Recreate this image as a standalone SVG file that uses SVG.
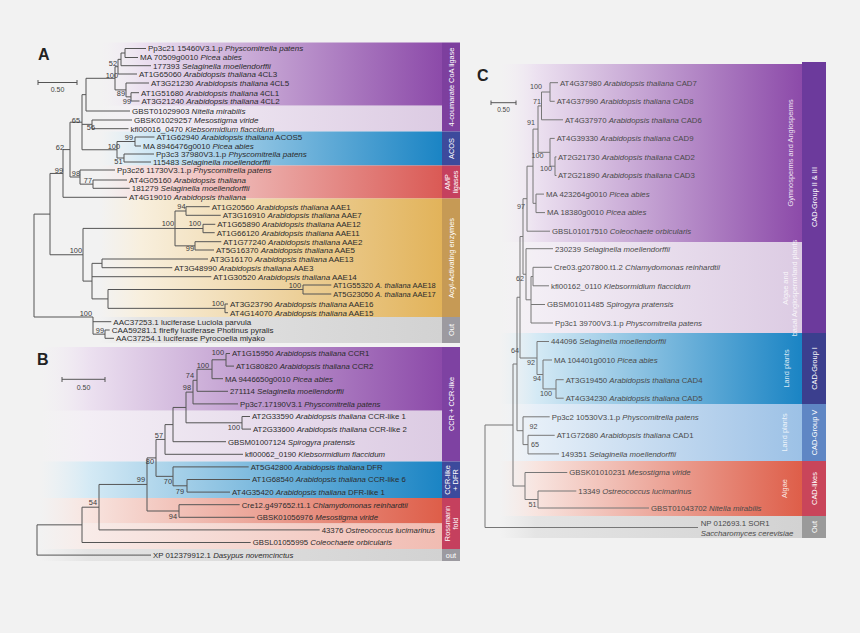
<svg xmlns="http://www.w3.org/2000/svg" width="860" height="633" viewBox="0 0 860 633">
<style>
.t{font-family:"Liberation Sans",Arial,sans-serif;font-size:7.8px;fill:#2b2b2b}
.ta{font-size:8px}
.c{font-family:"Liberation Sans",Arial,sans-serif;font-size:7.8px;fill:#4a4a4a}
.i{font-style:italic}
.bs{font-family:"Liberation Sans",Arial,sans-serif;font-size:7.4px;fill:#3a3a3a;text-anchor:end}
.bc{font-family:"Liberation Sans",Arial,sans-serif;font-size:7.2px;fill:#4a4a4a;text-anchor:end}
.bcs{font-family:"Liberation Sans",Arial,sans-serif;font-size:7.2px;fill:#4a4a4a}
.lb{font-family:"Liberation Sans",Arial,sans-serif;font-size:7.4px;fill:#fff;text-anchor:middle;dominant-baseline:central}
.lw{font-family:"Liberation Sans",Arial,sans-serif;font-size:7.4px;fill:#fff;fill-opacity:0.85;text-anchor:middle;dominant-baseline:central}
.pl{font-family:"Liberation Sans",Arial,sans-serif;font-size:16px;font-weight:bold;fill:#222}
.sc{font-family:"Liberation Sans",Arial,sans-serif;font-size:7px;fill:#444;text-anchor:middle}
.tr{fill:none;stroke:#555;stroke-width:1}
.trc{fill:none;stroke:#777;stroke-width:1}
</style>
<defs>
<linearGradient id="gP" x1="0" x2="1" y1="0" y2="0"><stop offset="0" stop-color="#f3edf5" stop-opacity="0"/><stop offset="0.12" stop-color="#ece1f0"/><stop offset="1" stop-color="#8c4aa9"/></linearGradient>
<linearGradient id="gPl" x1="0" x2="1" y1="0" y2="0"><stop offset="0" stop-color="#f5f1f6" stop-opacity="0"/><stop offset="0.12" stop-color="#f3eef5"/><stop offset="1" stop-color="#dccbe3"/></linearGradient>
<linearGradient id="gB" x1="0" x2="1" y1="0" y2="0"><stop offset="0" stop-color="#e2eff6" stop-opacity="0"/><stop offset="0.12" stop-color="#d5eaf5"/><stop offset="1" stop-color="#1a84c4"/></linearGradient>
<linearGradient id="gBl" x1="0" x2="1" y1="0" y2="0"><stop offset="0" stop-color="#eef4f9" stop-opacity="0"/><stop offset="0.12" stop-color="#e6eff8"/><stop offset="1" stop-color="#9cc1e6"/></linearGradient>
<linearGradient id="gR" x1="0" x2="1" y1="0" y2="0"><stop offset="0" stop-color="#f7e6e6" stop-opacity="0"/><stop offset="0.12" stop-color="#f6e0df"/><stop offset="1" stop-color="#da5a55"/></linearGradient>
<linearGradient id="gRo" x1="0" x2="1" y1="0" y2="0"><stop offset="0" stop-color="#f8e8e4" stop-opacity="0"/><stop offset="0.12" stop-color="#f8e4df"/><stop offset="1" stop-color="#de5e49"/></linearGradient>
<linearGradient id="gRl" x1="0" x2="1" y1="0" y2="0"><stop offset="0" stop-color="#f8ece9" stop-opacity="0"/><stop offset="0.12" stop-color="#f8ebe8"/><stop offset="1" stop-color="#f1bcb2"/></linearGradient>
<linearGradient id="gO" x1="0" x2="1" y1="0" y2="0"><stop offset="0" stop-color="#f8f0e0" stop-opacity="0"/><stop offset="0.12" stop-color="#f8efdd"/><stop offset="1" stop-color="#e2b35a"/></linearGradient>
<linearGradient id="gG" x1="0" x2="1" y1="0" y2="0"><stop offset="0" stop-color="#e6e6e6" stop-opacity="0"/><stop offset="0.12" stop-color="#e4e4e4"/><stop offset="1" stop-color="#d2d2d2"/></linearGradient>
</defs>
<rect width="860" height="633" fill="#f2f2f2"/>

<g id="bands">
<rect x="100" y="42.5" width="342" height="63.2" fill="url(#gP)"/>
<rect x="100" y="105.7" width="342" height="25.8" fill="url(#gPl)"/>
<rect x="100" y="131.5" width="342" height="34" fill="url(#gB)"/>
<rect x="100" y="165.5" width="342" height="33" fill="url(#gR)"/>
<rect x="100" y="198.5" width="342" height="118.5" fill="url(#gO)"/>
<rect x="100" y="317" width="342" height="26" fill="url(#gG)"/>
<rect x="40" y="347" width="402" height="63.7" fill="url(#gP)"/>
<rect x="40" y="410.7" width="402" height="50.8" fill="url(#gPl)"/>
<rect x="40" y="461.5" width="402" height="36.5" fill="url(#gB)"/>
<rect x="40" y="498" width="402" height="25.5" fill="url(#gRo)"/>
<rect x="40" y="523.5" width="402" height="25.5" fill="url(#gRl)"/>
<rect x="40" y="549" width="402" height="12" fill="url(#gG)"/>
<rect x="500" y="64" width="302" height="178" fill="url(#gP)"/>
<rect x="500" y="242" width="302" height="91" fill="url(#gPl)"/>
<rect x="500" y="333" width="302" height="71" fill="url(#gB)"/>
<rect x="500" y="404" width="302" height="57" fill="url(#gBl)"/>
<rect x="500" y="461" width="302" height="55" fill="url(#gRo)"/>
<rect x="500" y="516" width="302" height="22" fill="url(#gG)"/>
</g>

<g id="group-labels">
<g id="lab-4cl"><rect x="442" y="42.5" width="18" height="89" fill="#7d3f9e"/><text class="lb" transform="translate(451,87) rotate(-90)">4-coumarate CoA ligase</text></g>
<g id="lab-acos"><rect x="442" y="131.5" width="18" height="34" fill="#3d4a9c"/><text class="lb" transform="translate(451,148.5) rotate(-90)">ACOS</text></g>
<g id="lab-amp"><rect x="442" y="165.5" width="18" height="33" fill="#c5405e"/><text class="lb" transform="translate(447.5,182) rotate(-90)">AMP</text><text class="lb" transform="translate(455,182) rotate(-90)">ligases</text></g>
<g id="lab-aae"><rect x="442" y="198.5" width="18" height="118.5" fill="#c69a55"/><text class="lb" transform="translate(451,258) rotate(-90)">Acyl-Activating enzymes</text></g>
<g id="lab-outA"><rect x="442" y="317" width="18" height="26" fill="#9c9aa0"/><text class="lb" transform="translate(451,330) rotate(-90)">Out</text></g>
<g id="lab-ccr"><rect x="442" y="347" width="18" height="114.5" fill="#7e42a2"/><text class="lb" transform="translate(451,404) rotate(-90)">CCR + CCR-like</text></g>
<g id="lab-dfr"><rect x="442" y="461.5" width="18" height="36.5" fill="#3d4a9c"/><text class="lb" transform="translate(447.5,480) rotate(-90)">CCR-like</text><text class="lb" transform="translate(455,480) rotate(-90)">+ DFR</text></g>
<g id="lab-ross"><rect x="442" y="498" width="18" height="51" fill="#c5405e"/><text class="lb" transform="translate(447.5,523.5) rotate(-90)">Rossmann</text><text class="lb" transform="translate(455,523.5) rotate(-90)">fold</text></g>
<g id="lab-outB"><rect x="442" y="549" width="18" height="12" fill="#9c9aa0"/><text class="lb" x="451" y="555.3">out</text></g>
<g id="lab-c23"><rect x="802" y="62" width="24" height="271" fill="#6c3a9c"/><text class="lb" transform="translate(814,197) rotate(-90)">CAD-Group II &amp; III</text></g>
<g id="lab-c1"><rect x="802" y="333" width="24" height="71" fill="#3b3f8e"/><text class="lb" transform="translate(814,368.5) rotate(-90)">CAD-Group I</text></g>
<g id="lab-c5"><rect x="802" y="404" width="24" height="57" fill="#5f86c4"/><text class="lb" transform="translate(814,432.5) rotate(-90)">CAD-Group V</text></g>
<g id="lab-clk"><rect x="802" y="461" width="24" height="55" fill="#c9455a"/><text class="lb" transform="translate(814,488.5) rotate(-90)">CAD-likes</text></g>
<g id="lab-outC"><rect x="802" y="516" width="24" height="22" fill="#9a9a9a"/><text class="lb" transform="translate(814,527) rotate(-90)">Out</text></g>
<g id="lab-ga"><text class="lw" transform="translate(790,153) rotate(-90)">Gymnosperms and Angiosperms</text></g>
<g id="lab-ab"><text class="lw" transform="translate(785,288) rotate(-90)">Algae and</text><text class="lw" transform="translate(794,288) rotate(-90)">basal Angiosperm/land plants</text></g>
<g id="lab-lp1"><text class="lw" transform="translate(786,368.5) rotate(-90)">Land plants</text></g>
<g id="lab-lp2"><text class="lw" transform="translate(784,432.5) rotate(-90)">Land plants</text></g>
<g id="lab-al"><text class="lw" transform="translate(784,488.5) rotate(-90)">Algae</text></g>
</g>

<g id="panel-letters">
<text class="pl" x="38" y="60">A</text>
<text class="pl" x="37" y="365">B</text>
<text class="pl" x="477" y="81">C</text>
</g>

<g id="scale-bars" fill="none" stroke="#555" stroke-width="1">
<path d="M38 82.5H77M38 80V85M77 80V85"/>
<path d="M62 379.3H105M62 377V382M105 377V382"/>
<path d="M491 102.7H516M491 100.5V105M516 100.5V105"/>
</g>
<g id="scale-text">
<text class="sc" x="57.5" y="92">0.50</text>
<text class="sc" x="83.5" y="390">0.50</text>
<text class="sc" x="503.5" y="112" style="font-size:6.5px">0.50</text>
</g>

<g id="connectors">
<path class="tr" d="M125 48.5V57.5M125 48.5H146M125 57.5H138
M121 53V65.7M121 53H125M121 65.7H151
M118 59.35V74M118 59.35H121M118 74H137
M131 92.7V101M131 92.7H139M131 101H139.5
M126 83V96.85M126 83H149M126 96.85H131
M115 66.7V89.9M115 66.7H118M115 89.9H126
M86 78.3V111M86 78.3H115M86 111H130
M92 120V128.7M92 120H132M92 128.7H128.5
M135 137V146M135 137H154.5M135 146H141
M124 154V162M124 154H154M124 162H151
M117 141.5V158M117 141.5H135M117 158H124
M82 94.65V149.75M82 94.65H86M82 124.35H92M82 149.75H117
M93 180V188.3M93 180H127M93 188.3H129.7
M80 170V184.15M80 170H115M80 184.15H93
M70 122.2V177M70 122.2H82M70 177H80
M63 149.6V197.3M63 149.6H70M63 197.3H127
M186 206.7V215.3M186 206.7H209.7M186 215.3H220.7
M203 224.3V232.7M203 224.3H215.3M203 232.7H214.7
M195 241.7V250M195 241.7H221.3M195 250H214
M175 211V245.85M175 211H186M175 228.5H203M175 245.85H195
M102 259V267.7M102 259H208M102 267.7H172.3
M303 285V294M303 285H331.3M303 294H331.3
M225 304V312.7M225 304H228M225 312.7H228
M108 289.5V308.35M108 289.5H303M108 308.35H225
M92 263.35V298.9M92 263.35H102M92 276.7H211.3M92 298.9H108
M83 228.4V281.1M83 228.4H175M83 281.1H92
M50 173.45V254.75M50 173.45H63M50 254.75H83
M105 330V338.3M105 330H109.7M105 338.3H114
M93 317V334.15M93 321.7H111.3M93 334.15H105
M34 214.1V317M34 214.1H50M34 317H93"/>
<path class="tr" d="M226 353.5V366.1M226 353.5H230M226 366.1H234
M212 359.8V378.7M212 359.8H226M212 378.7H223
M197 369.25V391.3M197 369.25H212M197 391.3H228
M193 380.3V403.9M193 380.3H197M193 403.9H238
M242 416.5V429.1M242 416.5H250M242 429.1H251
M186 392.1V422.8M186 392.1H193M186 422.8H242
M173 407.45V441.7M173 407.45H186M173 441.7H226
M165 424.6V454.3M165 424.6H173M165 454.3H243
M187 479.5V492.1M187 479.5H250M187 492.1H230
M173 466.9V485.8M173 466.9H248.7M173 485.8H187
M156 439.45V476.35M156 439.45H165M156 476.35H173
M179 504.7V517.3M179 504.7H239.7M179 517.3H254.7
M147 457.9V511M147 457.9H156M147 511H179
M99 484.45V529.9M99 484.45H147M99 529.9H319.7
M82 507.2V542.5M82 507.2H99M82 542.5H250.7
M37 524.85V555.1M37 524.85H82M37 555.1H151"/>
<path class="trc" d="M550 82.7V101.3M550 82.7H558M550 101.3H554.7
M541.5 92V119.8M541.5 92H550M541.5 119.8H563
M555 156.9V175.5M555 156.9H556.5M555 175.5H556.5
M550 138.4V166.2M550 138.4H554.7M550 166.2H555
M538 105.9V152.3M538 105.9H541.5M538 152.3H550
M536 194.1V212.6M536 194.1H544M536 212.6H545
M533 129.1V203.35M533 129.1H538M533 203.35H536
M527 166.2V231.2M527 166.2H533M527 231.2H550
M533 267.3V285.8M533 267.3H552M533 285.8H549
M531 276.55V323M531 276.55H533M531 304.5H545M531 323H553
M526 248.7V299.8M526 248.7H553M526 299.8H531
M523 198.7V274.25M523 198.7H527M523 274.25H526
M556 379.7V398.2M556 379.7H563.7M556 398.2H563.7
M543 360V388.95M543 360H552M543 388.95H556
M537 341.5V374.5M537 341.5H549M537 374.5H543
M520 236.5V358M520 236.5H523M520 358H537
M528 435.3V453.9M528 435.3H554.7M528 453.9H559
M523 416.8V444.6M523 416.8H549.7M523 444.6H528
M517 297.25V430.7M517 297.25H520M517 430.7H523
M538 491V508M538 491H576.3M538 508H649
M525 472.5V499.5M525 472.5H567.3M525 499.5H538
M513 364V486M513 364H517M513 486H525
M485 425V527.5M485 425H513M485 527.5H698"/>
</g>

<g id="bootstrap">
<text class="bs" x="117" y="66">52</text>
<text class="bs" x="118" y="77.5">100</text>
<text class="bs" x="125" y="95.5">89</text>
<text class="bs" x="131" y="104">99</text>
<text class="bs" x="80" y="122.5">65</text>
<text class="bs" x="95" y="130">56</text>
<text class="bs" x="133" y="139.8">99</text>
<text class="bs" x="120" y="148.5">100</text>
<text class="bs" x="122.5" y="164">51</text>
<text class="bs" x="64" y="150">62</text>
<text class="bs" x="63" y="172.5">99</text>
<text class="bs" x="80" y="175.8">98</text>
<text class="bs" x="92" y="183">77</text>
<text class="bs" x="185.5" y="209">94</text>
<text class="bs" x="174" y="226">100</text>
<text class="bs" x="201" y="226">100</text>
<text class="bs" x="194" y="251">99</text>
<text class="bs" x="82" y="252.5">100</text>
<text class="bs" x="301" y="287.5">100</text>
<text class="bs" x="224" y="305.8">100</text>
<text class="bs" x="92" y="315.5">100</text>
<text class="bs" x="104" y="332.5">99</text>
<text class="bs" x="224" y="354.5">100</text>
<text class="bs" x="209" y="367.5">100</text>
<text class="bs" x="194" y="377.5">74</text>
<text class="bs" x="191" y="390">98</text>
<text class="bs" x="240" y="430">100</text>
<text class="bs" x="163" y="437.5">57</text>
<text class="bs" x="154" y="464">80</text>
<text class="bs" x="145" y="482">99</text>
<text class="bs" x="172" y="484">70</text>
<text class="bs" x="184" y="494">79</text>
<text class="bs" x="177" y="519">94</text>
<text class="bs" x="97" y="505">54</text>
<text class="bc" x="542" y="88.5">100</text>
<text class="bc" x="541" y="104">71</text>
<text class="bc" x="535" y="125">91</text>
<text class="bc" x="543.5" y="157.5">100</text>
<text class="bc" x="552" y="171">100</text>
<text class="bc" x="525" y="209">97</text>
<text class="bc" x="524" y="281">62</text>
<text class="bc" x="519" y="353">64</text>
<text class="bc" x="535" y="365">92</text>
<text class="bc" x="541" y="381">94</text>
<text class="bc" x="552" y="396">100</text>
<text class="bcs" x="529.5" y="429">92</text>
<text class="bcs" x="531" y="446.5">65</text>
<text class="bcs" x="528.5" y="506.5">51</text>
</g>

<g id="leaves-A">
<g id="a1"><text class="t ta" x="148" y="51.3">Pp3c21 15460V3.1.p <tspan class="i">Physcomitrella patens</tspan></text></g>
<g id="a2"><text class="t ta" x="140" y="60.3">MA 70509g0010 <tspan class="i">Picea abies</tspan></text></g>
<g id="a3"><text class="t ta" x="153" y="68.5">177393 <tspan class="i">Selaginella moellendorffii</tspan></text></g>
<g id="a4"><text class="t ta" x="139" y="76.8">AT1G65060 <tspan class="i">Arabidopsis thaliana</tspan> 4CL3</text></g>
<g id="a5"><text class="t ta" x="151" y="85.8">AT3G21230 <tspan class="i">Arabidopsis thaliana</tspan> 4CL5</text></g>
<g id="a6"><text class="t ta" x="141" y="95.5">AT1G51680 <tspan class="i">Arabidopsis thaliana</tspan> 4CL1</text></g>
<g id="a7"><text class="t ta" x="141.5" y="103.8">AT3G21240 <tspan class="i">Arabidopsis thaliana</tspan> 4CL2</text></g>
<g id="a8"><text class="t ta" x="132" y="113.8">GBST01029903 <tspan class="i">Nitella mirabilis</tspan></text></g>
<g id="a9"><text class="t ta" x="134" y="122.8">GBSK01029257 <tspan class="i">Mesostigma viride</tspan></text></g>
<g id="a10"><text class="t ta" x="130.5" y="131.5">kfl00016_0470 <tspan class="i">Klebsormidium flaccidum</tspan></text></g>
<g id="a11"><text class="t ta" x="156.5" y="139.8">AT1G62940 <tspan class="i">Arabidopsis thaliana</tspan> ACOS5</text></g>
<g id="a12"><text class="t ta" x="143" y="148.8">MA 8946476g0010 <tspan class="i">Picea abies</tspan></text></g>
<g id="a13"><text class="t ta" x="156" y="156.8">Pp3c3 37980V3.1.p <tspan class="i">Physcomitrella patens</tspan></text></g>
<g id="a14"><text class="t ta" x="153" y="164.8">115483 <tspan class="i">Selaginella moellendorffii</tspan></text></g>
<g id="a15"><text class="t ta" x="117" y="172.8">Pp3c26 11730V3.1.p <tspan class="i">Physcomitrella patens</tspan></text></g>
<g id="a16"><text class="t ta" x="129" y="182.8">AT4G05160 <tspan class="i">Arabidopsis thaliana</tspan></text></g>
<g id="a17"><text class="t ta" x="131.7" y="191.1">181279 <tspan class="i">Selaginella moellendorffii</tspan></text></g>
<g id="a18"><text class="t ta" x="129" y="200.1">AT4G19010 <tspan class="i">Arabidopsis thaliana</tspan></text></g>
<g id="a19"><text class="t ta" x="211.7" y="209.5">AT1G20560 <tspan class="i">Arabidopsis thaliana</tspan> AAE1</text></g>
<g id="a20"><text class="t ta" x="222.7" y="218.1">AT3G16910 <tspan class="i">Arabidopsis thaliana</tspan> AAE7</text></g>
<g id="a21"><text class="t ta" x="217.3" y="227.1">AT1G65890 <tspan class="i">Arabidopsis thaliana</tspan> AAE12</text></g>
<g id="a22"><text class="t ta" x="216.7" y="235.5">AT1G66120 <tspan class="i">Arabidopsis thaliana</tspan> AAE11</text></g>
<g id="a23"><text class="t ta" x="223.3" y="244.5">AT1G77240 <tspan class="i">Arabidopsis thaliana</tspan> AAE2</text></g>
<g id="a24"><text class="t ta" x="216" y="252.8">AT5G16370 <tspan class="i">Arabidopsis thaliana</tspan> AAE5</text></g>
<g id="a25"><text class="t ta" x="210" y="261.8">AT3G16170 <tspan class="i">Arabidopsis thaliana</tspan> AAE13</text></g>
<g id="a26"><text class="t ta" x="174.3" y="270.5">AT3G48990 <tspan class="i">Arabidopsis thaliana</tspan> AAE3</text></g>
<g id="a27"><text class="t ta" x="213.3" y="279.5">AT1G30520 <tspan class="i">Arabidopsis thaliana</tspan> AAE14</text></g>
<g id="a28"><text class="t" x="333.3" y="287.8" style="font-size:7.5px">AT1G55320 <tspan class="i">A. thaliana</tspan> AAE18</text></g>
<g id="a29"><text class="t" x="333.3" y="296.8" style="font-size:7.5px">AT5G23050 <tspan class="i">A. thaliana</tspan> AAE17</text></g>
<g id="a30"><text class="t ta" x="230" y="306.8">AT3G23790 <tspan class="i">Arabidopsis thaliana</tspan> AAE16</text></g>
<g id="a31"><text class="t ta" x="230" y="315.5">AT4G14070 <tspan class="i">Arabidopsis thaliana</tspan> AAE15</text></g>
<g id="a32"><text class="t ta" x="113.3" y="324.5">AAC37253.1 luciferase Luciola parvula</text></g>
<g id="a33"><text class="t ta" x="111.7" y="332.8">CAA59281.1 firefly luciferase Photinus pyralis</text></g>
<g id="a34"><text class="t ta" x="116" y="341.1">AAC37254.1 luciferase Pyrocoelia miyako</text></g>
</g>

<g id="leaves-B">
<g id="b1"><text class="t" x="232" y="356.3">AT1G15950 <tspan class="i">Arabidopsis thaliana</tspan> CCR1</text></g>
<g id="b2"><text class="t" x="236" y="368.9">AT1G80820 <tspan class="i">Arabidopsis thaliana</tspan> CCR2</text></g>
<g id="b3"><text class="t" x="225" y="381.5">MA 9446650g0010 <tspan class="i">Picea abies</tspan></text></g>
<g id="b4"><text class="t" x="230" y="394.1">271114 <tspan class="i">Selaginella moellendorffii</tspan></text></g>
<g id="b5"><text class="t" x="240" y="406.7">Pp3c7.17190V3.1 <tspan class="i">Physcomitrella patens</tspan></text></g>
<g id="b6"><text class="t" x="252" y="419.3">AT2G33590 <tspan class="i">Arabidopsis thaliana</tspan> CCR-like 1</text></g>
<g id="b7"><text class="t" x="253" y="431.9">AT2G33600 <tspan class="i">Arabidopsis thaliana</tspan> CCR-like 2</text></g>
<g id="b8"><text class="t" x="228" y="444.5">GBSM01007124 <tspan class="i">Spirogyra pratensis</tspan></text></g>
<g id="b9"><text class="t" x="245" y="457.1">kfl00062_0190 <tspan class="i">Klebsormidium flaccidum</tspan></text></g>
<g id="b10"><text class="t" x="250.7" y="469.7">AT5G42800 <tspan class="i">Arabidopsis thaliana</tspan> DFR</text></g>
<g id="b11"><text class="t" x="252" y="482.3">AT1G68540 <tspan class="i">Arabidopsis thaliana</tspan> CCR-like 6</text></g>
<g id="b12"><text class="t" x="232" y="494.9">AT4G35420 <tspan class="i">Arabidopsis thaliana</tspan> DFR-like 1</text></g>
<g id="b13"><text class="t" x="241.7" y="507.5">Cre12.g497652.t1.1 <tspan class="i">Chlamydomonas reinhardtii</tspan></text></g>
<g id="b14"><text class="t" x="256.7" y="520.1">GBSK01056976 <tspan class="i">Mesostigma viride</tspan></text></g>
<g id="b15"><text class="t" x="321.7" y="532.7">43376 <tspan class="i">Ostreococcus lucimarinus</tspan></text></g>
<g id="b16"><text class="t" x="252.7" y="545.3">GBSL01055995 <tspan class="i">Coleochaete orbicularis</tspan></text></g>
<g id="b17"><text class="t" x="153" y="557.9">XP 012379912.1 <tspan class="i">Dasypus novemcinctus</tspan></text></g>
</g>

<g id="leaves-C">
<g id="c1"><text class="c" x="560" y="85.5">AT4G37980 <tspan class="i">Arabidopsis thaliana</tspan> CAD7</text></g>
<g id="c2"><text class="c" x="556.7" y="104.1">AT4G37990 <tspan class="i">Arabidopsis thaliana</tspan> CAD8</text></g>
<g id="c3"><text class="c" x="565" y="122.6">AT4G37970 <tspan class="i">Arabidopsis thaliana</tspan> CAD6</text></g>
<g id="c4"><text class="c" x="556.7" y="141.2">AT4G39330 <tspan class="i">Arabidopsis thaliana</tspan> CAD9</text></g>
<g id="c5"><text class="c" x="558" y="159.7">AT2G21730 <tspan class="i">Arabidopsis thaliana</tspan> CAD2</text></g>
<g id="c6"><text class="c" x="558" y="178.3">AT2G21890 <tspan class="i">Arabidopsis thaliana</tspan> CAD3</text></g>
<g id="c7"><text class="c" x="546" y="196.9">MA 423264g0010 <tspan class="i">Picea abies</tspan></text></g>
<g id="c8"><text class="c" x="547" y="215.4">MA 18380g0010 <tspan class="i">Picea abies</tspan></text></g>
<g id="c9"><text class="c" x="552" y="234">GBSL01017510 <tspan class="i">Coleochaete orbicularis</tspan></text></g>
<g id="c10"><text class="c" x="555" y="251.5">230239 <tspan class="i">Selaginella moellendorffii</tspan></text></g>
<g id="c11"><text class="c" x="554" y="270.1">Cre03.g207800.t1.2 <tspan class="i">Chlamydomonas reinhardtii</tspan></text></g>
<g id="c12"><text class="c" x="551" y="288.6">kfl00162_0110 <tspan class="i">Klebsormidium flaccidum</tspan></text></g>
<g id="c13"><text class="c" x="547" y="307.3">GBSM01011485 <tspan class="i">Spirogyra pratensis</tspan></text></g>
<g id="c14"><text class="c" x="555" y="325.8">Pp3c1 39700V3.1.p <tspan class="i">Physcomitrella patens</tspan></text></g>
<g id="c15"><text class="c" x="551" y="344.3">444096 <tspan class="i">Selaginella moellendorffii</tspan></text></g>
<g id="c16"><text class="c" x="554" y="362.8">MA 104401g0010 <tspan class="i">Picea abies</tspan></text></g>
<g id="c17"><text class="c" x="565.7" y="382.5">AT3G19450 <tspan class="i">Arabidopsis thaliana</tspan> CAD4</text></g>
<g id="c18"><text class="c" x="565.7" y="401">AT4G34230 <tspan class="i">Arabidopsis thaliana</tspan> CAD5</text></g>
<g id="c19"><text class="c" x="551.7" y="419.6">Pp3c2 10530V3.1.p <tspan class="i">Physcomitrella patens</tspan></text></g>
<g id="c20"><text class="c" x="556.7" y="438.1">AT1G72680 <tspan class="i">Arabidopsis thaliana</tspan> CAD1</text></g>
<g id="c21"><text class="c" x="561" y="456.7">149351 <tspan class="i">Selaginella moellendorffii</tspan></text></g>
<g id="c22"><text class="c" x="569.3" y="475.3">GBSK01010231 <tspan class="i">Mesostigma viride</tspan></text></g>
<g id="c23"><text class="c" x="578.3" y="493.8">13349 <tspan class="i">Ostreococcus lucimarinus</tspan></text></g>
<g id="c24"><text class="c" x="651" y="510.8">GBST01043702 <tspan class="i">Nitella mirabilis</tspan></text></g>
<g id="c25"><text class="c" x="700.7" y="525.5">NP 012693.1 SOR1</text><text class="c i" x="700.7" y="536.1">Saccharomyces cerevisiae</text></g>
</g>
</svg>
